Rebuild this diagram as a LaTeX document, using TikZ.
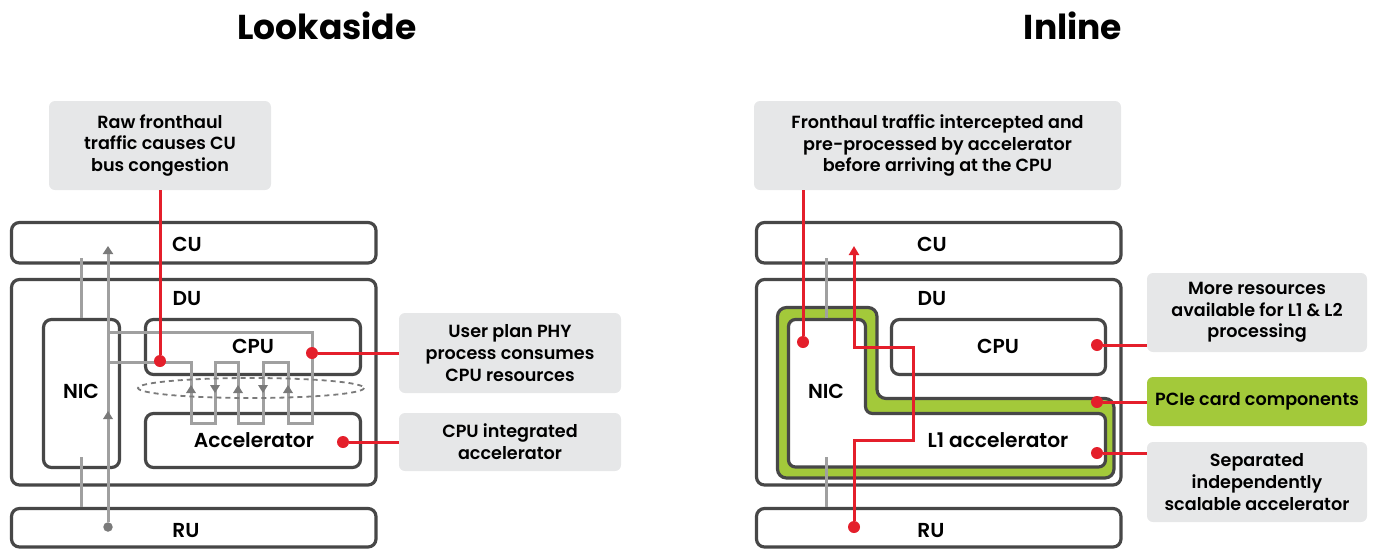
\documentclass[tikz,border=0pt]{standalone}
\usepackage{fontspec}
\setmainfont{Poppins SemiBold}
\newfontfamily\headfont{Poppins Bold}
\usetikzlibrary{arrows.meta,fit}

\definecolor{framegray}{HTML}{474747}
\definecolor{calloutbg}{HTML}{E6E7E8}
\definecolor{flowgray}{HTML}{A0A0A0}
\definecolor{tipgray}{HTML}{7A7A7A}
\definecolor{hotred}{HTML}{E41F2B}
\definecolor{pcie}{HTML}{A3C93A}

\newcommand\calloutfont{\fontsize{17.6}{21.7}\selectfont}
\newcommand\labelfont{\fontsize{20.2}{22}\selectfont}
\newcommand\titlefont{\headfont\fontsize{34.5}{38}\selectfont}

\begin{document}
\begin{tikzpicture}[x=1pt,y=-1pt,
  unit/.style={draw=framegray, line width=3.2pt, rounded corners=8pt, fill=white, inner sep=0pt},
  callout/.style={fill=calloutbg, rounded corners=6pt, align=center, font=\calloutfont, inner sep=0pt},
  lbl/.style={font=\labelfont, inner sep=0pt},
  heading/.style={font=\titlefont, inner sep=0pt},
  flow/.style={draw=flowgray, line width=3pt},
  hot/.style={draw=hotred, line width=3pt},
  hotdot/.style={circle, fill=hotred, minimum size=12pt, inner sep=0pt},
  graydot/.style={circle, fill=tipgray, minimum size=9.5pt, inner sep=0pt},
  flowtip/.style={-{Triangle[width=10pt,length=8pt,color=tipgray]}},
  hottip/.style={-{Triangle[width=10pt,length=9pt]}},
  upmark/.pic={\fill[tipgray] (-5,4) -- (5,4) -- (0,-4) -- cycle;},
  downmark/.pic={\fill[tipgray] (-5,-4) -- (5,-4) -- (0,4) -- cycle;}
]
\useasboundingbox (0,0) rectangle (1374,550);

% ---------------- Lookaside ----------------
\node[heading] (tLook) at (327,26) {Lookaside};

\node[callout, minimum width=222pt, minimum height=89pt] (cRaw) at (160,145.5)
  {Raw fronthaul\\traffic causes CU\\bus congestion};
\node[callout, minimum width=222pt, minimum height=80pt] (cPhy) at (510,353)
  {User plan PHY\\process consumes\\CPU resources};
\node[callout, minimum width=222pt, minimum height=58pt] (cInt) at (510,442)
  {CPU integrated\\accelerator};

\node[unit, fit={(11.5,222.5) (376,263)}] (cuL) {};
\node[unit, fit={(11.5,279.5) (376,485)}] (duL) {};
\node[unit, fit={(43.5,319.5) (119.5,467.5)}] (nicL) {};
\node[unit, fit={(145.5,319.5) (360.5,374.5)}] (cpuL) {};
\node[unit, fit={(145.5,413.5) (360.5,467.5)}] (accL) {};
\node[unit, fit={(11.5,508.5) (376,547)}] (ruL) {};

\node[lbl] at (187,244) {CU};
\node[lbl] at (187,299) {DU};
\node[lbl] at (81,391) {NIC};
\node[lbl] at (253,346) {CPU};
\node[lbl] at (254,440) {Accelerator};
\node[lbl] at (186,531) {RU};

% NIC pass-through stubs
\draw[flow] (81,258) -- (nicL.north -| 81,0);
\draw[flow] (81,457) -- (ruL.north -| 81,0);

% fronthaul data path through CPU and accelerator
\node[graydot] (srcL) at (108,527) {};
\coordinate (sinkL) at (108,246);
\draw[flow, flowtip] (srcL) -- (sinkL);
\draw[flow] (108,362) -- (191,362) -- (191,423) -- (215,423) -- (215,362)
  -- (238,362) -- (238,423) -- (263,423) -- (263,362) -- (288,362)
  -- (288,423) -- (312,423) -- (312,332) -- (108,332);
\pic at (108,415) {upmark};

% CPU-accelerator bus
\draw[tipgray, line width=1.8pt, dash pattern=on 5pt off 4pt] (251,388) ellipse (113 and 10);
\pic at (191,389) {upmark};
\pic at (215,389) {downmark};
\pic at (238,389) {upmark};
\pic at (263,389) {downmark};
\pic at (288,389) {upmark};

% callout leaders
\node[hotdot] (dRaw) at (160,361) {};
\node[hotdot] (dPhy) at (312,353) {};
\node[hotdot] (dInt) at (343,442) {};
\draw[hot] (cRaw.south) -- (dRaw);
\draw[hot] (dPhy) -- (dPhy -| cPhy.west);
\draw[hot] (dInt) -- (dInt -| cInt.west);

% ---------------- Inline ----------------
\node[heading] (tIn) at (1073,26) {Inline};

\node[callout, minimum width=367pt, minimum height=89pt] (cFh) at (937.5,145.5)
  {Fronthaul traffic intercepted and\\pre-processed by accelerator\\before arriving at the CPU};
\node[callout, minimum width=220pt, minimum height=79pt] (cMore) at (1257,312.5)
  {More resources\\available for L1 \& L2\\processing};
\node[callout, fill=pcie, minimum width=220pt, minimum height=49pt] (cPcie) at (1257,401.5)
  {PCIe card components};
\node[callout, minimum width=220pt, minimum height=80pt] (cSep) at (1257,482)
  {Separated\\independently\\scalable accelerator};

\node[unit, fit={(756.5,222.5) (1121,263)}] (cuR) {};
\node[unit, fit={(756.5,279.5) (1121,485)}] (duR) {};
\node[unit, fit={(756.5,508.5) (1121,547)}] (ruR) {};

% PCIe card outline and the NIC / L1 accelerator block on it
\draw[draw=framegray, line width=3.2pt, fill=pcie, rounded corners=9pt]
  (777.5,307.5) -- (877,307.5) -- (877,398.5) -- (1114,398.5) -- (1114,478) -- (777.5,478) -- cycle;
\draw[draw=framegray, line width=3.2pt, fill=white, rounded corners=7pt]
  (788.5,319.5) -- (865.5,319.5) -- (865.5,413.5) -- (1105.5,413.5) -- (1105.5,467) -- (788.5,467) -- cycle;
\node[unit, fit={(891.5,319.5) (1105.5,374.5)}] (cpuR) {};

\node[lbl] at (932,244) {CU};
\node[lbl] at (932,299) {DU};
\node[lbl] at (826,391) {NIC};
\node[lbl] at (998,346) {CPU};
\node[lbl] at (998,440) {L1 accelerator};
\node[lbl] at (931,531) {RU};

% NIC pass-through stubs
\draw[flow] (826,258) -- (826,318);
\draw[flow] (826,457) -- (ruR.north -| 826,0);

% fronthaul path handled on the card
\node[hotdot] (srcR) at (854,527) {};
\coordinate (sinkR) at (854,246);
\draw[hot, hottip] (srcR) -- (854,440) -- (913,440) -- (913,347) -- (854,347) -- (sinkR);

% callout leaders
\node[hotdot] (dFh) at (803,342) {};
\node[hotdot] (dMore) at (1097,345) {};
\node[hotdot] (dPcie) at (1097,402) {};
\node[hotdot] (dSep) at (1097,453) {};
\draw[hot] (cFh.south -| dFh) -- (dFh);
\draw[hot] (dMore) -- (dMore -| cMore.west);
\draw[hot] (dPcie) -- (dPcie -| cPcie.west);
\draw[hot] (dSep) -- (dSep -| cSep.west);
\end{tikzpicture}
\end{document}
